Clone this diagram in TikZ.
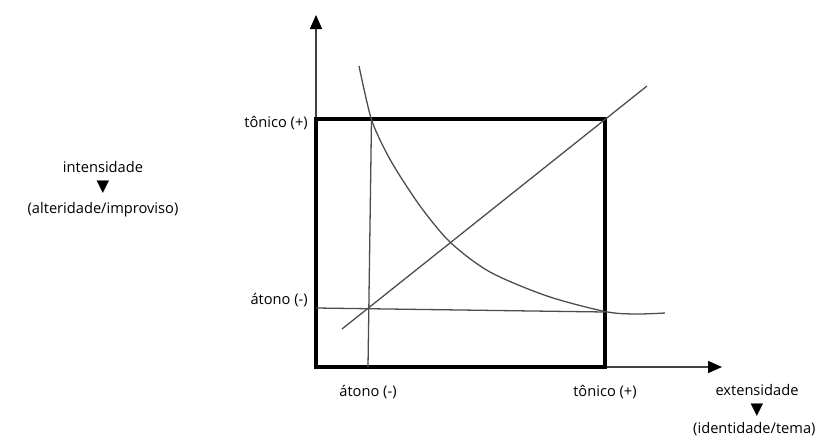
\documentclass[tikz,border=0pt]{standalone}
\usepackage{fontspec}
\setmainfont{Open Sans}
\newfontfamily\symfont{DejaVu Sans}
\usetikzlibrary{arrows.meta}

\begin{document}
\begin{tikzpicture}[x=0.03cm, y=-0.03cm,
    lbl/.style={font=\fontsize{12.5}{14}\selectfont, inner sep=0pt},
    tri/.style={font=\symfont\fontsize{14}{15}\selectfont, inner sep=0pt},
    axisarr/.style={-{Triangle[length=4.2mm, width=3.6mm, black]}, line width=1.4pt, color=black!75},
    box/.style={line width=2.6pt},
    guide/.style={line width=1.1pt, color=black!70}]
  \useasboundingbox (0,0) rectangle (837,439);
  \coordinate (o) at (316,367);
  \coordinate (ytop) at (316,15);
  \coordinate (xend) at (722,367);
  \draw[axisarr] (o) -- (ytop);
  \draw[axisarr] (o) -- (xend);
  \draw[box] (316,119) rectangle (605,367);
  \draw[guide] (371.5,119) -- (368,367);
  \draw[guide] (316,308) -- (605,312);
  \draw[guide] (342,329) -- (647,86);
  \draw[guide] plot[smooth, tension=0.5] coordinates {(359,66) (371,118) (385,150) (400,176) (423,210) (451,243) (490,272) (547,296) (605,311.5) (635,314) (665,313)};
  % eixo vertical
  \node[lbl, anchor=east] (tonY) at (308,123) {tônico (+)};
  \node[lbl, anchor=east] (atoY) at (308,300) {átono (-)};
  % eixo horizontal
  \node[lbl] (atoX) at (368,392) {átono (-)};
  \node[lbl] (tonX) at (605,392) {tônico (+)};
  \node[lbl] (ext) at (757,390) {extensidade};
  \node[tri] (extarr) at (757,410) {▼};
  \node[lbl, anchor=west] (ident) at (693,429) {(identidade/tema)};
  \node[lbl] (int) at (103,167) {intensidade};
  \node[tri] (intarr) at (103,187) {▼};
  \node[lbl] (alter) at (103,210) {(alteridade/improviso)};
\end{tikzpicture}
\end{document}
